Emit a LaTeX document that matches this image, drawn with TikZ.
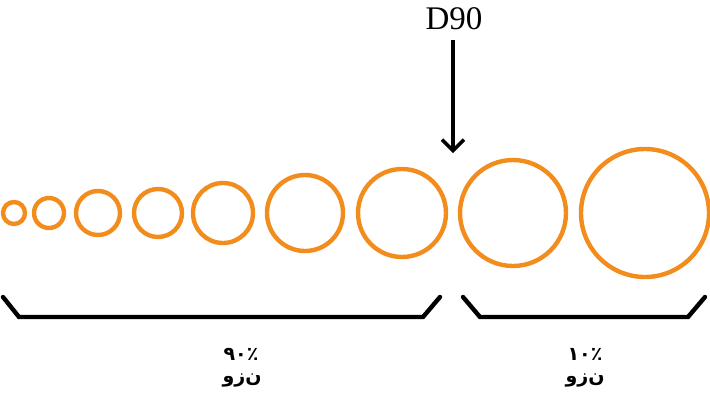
\documentclass[tikz,border=0pt]{standalone}
\usepackage{fontspec}
\setmainfont{Liberation Serif}
\newfontfamily\arabicfont[Script=Arabic]{DejaVu Sans}
\usetikzlibrary{arrows.meta}
\definecolor{particle}{RGB}{242,140,28}
\newcommand{\glyphs}[1]{\mbox{#1}}
\tikzset{
  grain/.style={circle,draw=particle,line width=4.4pt,inner sep=0pt,minimum size=#1},
  bracket/.style={line width=4.4pt,line cap=round,line join=miter},
  pointer/.style={line width=3.4pt,-{Straight Barb[length=11pt,width=22pt]}},
  lbl/.style={font=\arabicfont\bfseries\fontsize{19}{22}\selectfont,inner sep=0pt,align=center}
}
\begin{document}
\begin{tikzpicture}[x=1pt,y=-1pt]
\useasboundingbox (0,0) rectangle (710,400);
% particles (minimum size = diameter at stroke centre + stroke width)
\node[grain=22pt] (c1) at (14,213) {};
\node[grain=30pt] (c2) at (49,213) {};
\node[grain=44pt] (c3) at (98,213) {};
\node[grain=48pt] (c4) at (158,213) {};
\node[grain=60pt] (c5) at (223,213) {};
\node[grain=76pt] (c6) at (305,213) {};
\node[grain=88pt] (c7) at (402,213) {};
\node[grain=106pt] (c8) at (513,213) {};
\node[grain=128pt] (c9) at (645,213) {};
% D90 marker
\node[font=\fontsize{33}{36}\selectfont,inner sep=0pt] (d90) at (454,19) {D90};
\coordinate (tip) at (453,153);
\draw[pointer] (453,40) -- (tip);
% brackets
\coordinate (a1) at (3,297);
\coordinate (a2) at (19,317);
\coordinate (a3) at (423,317);
\coordinate (a4) at (440,297);
\draw[bracket] (a1) -- (a2) -- (a3) -- (a4);
\coordinate (b1) at (463,297);
\coordinate (b2) at (480,317);
\coordinate (b3) at (688,317);
\coordinate (b4) at (705,297);
\draw[bracket] (b1) -- (b2) -- (b3) -- (b4);
% labels
\node[lbl] (p1) at (241,354) {\glyphs{٩٠}\glyphs{٪}};
\node[lbl] (w1) at (242,380) {\glyphs{و}\glyphs{ز}\glyphs{ن}};
\node[lbl] (p2) at (585,354) {\glyphs{١٠}\glyphs{٪}};
\node[lbl] (w2) at (585,380) {\glyphs{و}\glyphs{ز}\glyphs{ن}};
\end{tikzpicture}
\end{document}
